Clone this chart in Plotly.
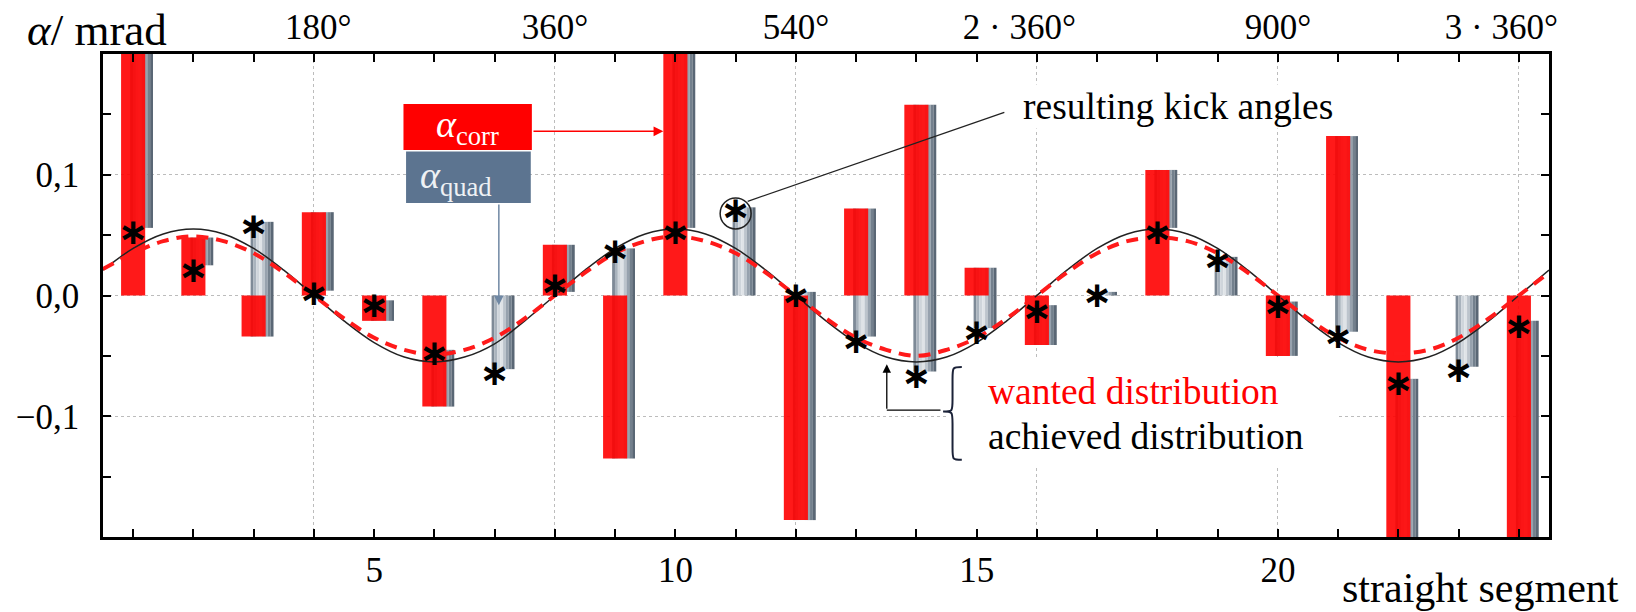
import plotly.graph_objects as go

# ---------------- data ----------------
segments = list(range(1, 25))
# corrector kick (red bars, from 0)
alpha_corr = [0.25, 0.048, -0.034, 0.069, -0.021, -0.092, 0.0, 0.042, -0.135, 0.25, 0.0, -0.186,
              0.072, 0.158, 0.023, -0.041, 0.0, 0.104, 0.0, -0.050, 0.132, -0.25, 0.0, -0.25]
# quadrupole contribution (grey bars, starting at the end of the red bar)
alpha_quad = [-0.194, -0.023, 0.095, -0.065, 0.017, 0.047, -0.061, -0.039, 0.174, -0.194, 0.073, 0.189,
              -0.106, -0.221, -0.050, 0.033, 0.003, -0.048, 0.032, 0.045, -0.162, 0.181, -0.059, 0.229]
# resulting kick angles (asterisks)
kick_angles = [0.050, 0.019, 0.055, 0.000, -0.010, -0.050, -0.067, 0.006, 0.034, 0.050, 0.068, -0.002,
               -0.040, -0.069, -0.033, -0.015, -0.002, 0.050, 0.027, -0.011, -0.036, -0.075, -0.064, -0.028]

curve_x = [0.5, 1.0, 1.5, 2.0, 2.5, 3.0, 3.5, 4.0, 4.5, 5.0, 5.5, 6.0, 6.5, 7.0, 7.5, 8.0,
           8.5, 9.0, 9.5, 10.0, 10.5, 11.0, 11.5, 12.0, 12.5, 13.0, 13.5, 14.0, 14.5, 15.0, 15.5, 16.0,
           16.5, 17.0, 17.5, 18.0, 18.5, 19.0, 19.5, 20.0, 20.5, 21.0, 21.5, 22.0, 22.5, 23.0, 23.5, 24.0, 24.5]
achieved = [0.021, 0.039, 0.051, 0.055, 0.051, 0.039, 0.021, 0.000, -0.021, -0.039, -0.051, -0.055,
            -0.051, -0.040, -0.021, 0.000, 0.021, 0.039, 0.051, 0.055, 0.051, 0.039, 0.021, 0.000,
            -0.021, -0.039, -0.051, -0.055, -0.051, -0.039, -0.021, 0.000, 0.021, 0.039, 0.051, 0.055,
            0.051, 0.039, 0.021, 0.000, -0.021, -0.039, -0.051, -0.055, -0.051, -0.039, -0.021, 0.000, 0.021]
wanted = [0.022, 0.035, 0.045, 0.049, 0.045, 0.035, 0.019, 0.000, -0.019, -0.035, -0.045, -0.049,
          -0.045, -0.035, -0.019, 0.000, 0.019, 0.035, 0.045, 0.049, 0.045, 0.035, 0.019, 0.000,
          -0.019, -0.035, -0.045, -0.050, -0.045, -0.035, -0.019, 0.000, 0.019, 0.035, 0.045, 0.048,
          0.045, 0.035, 0.019, 0.000, -0.019, -0.035, -0.045, -0.048, -0.045, -0.035, -0.019, 0.000, 0.019]

NB = "\u00a0"
bottom_tickvals = [5, 10, 15, 20]
bottom_ticktext = ["5", "10", "15", "20"]
top_tickvals = [4, 8, 12, 16, 20, 24]
top_ticktext = [NB + "180°", "360°", "540°", "2 · 360°" + NB * 4, "900°", "3 · 360°" + NB * 4]
y_tickvals = [-0.1, 0.0, 0.1]
y_ticktext = ["\u22120,1", "0,0", "0,1"]

# ---------------- style ----------------
FONT = "Liberation Serif"
RED = "#ff1a1a"
GRID = "#bcbcbc"
grey_shades = ["#7e8a97", "#a9b3bd", "#cfd5db", "#dfe3e7", "#bcc4cc", "#97a2ae", "#73808d", "#5a6775"]

fig = go.Figure()

gw = 0.38 / len(grey_shades)
for i, c in enumerate(grey_shades):
    fig.add_trace(go.Bar(x=segments, y=alpha_quad, base=alpha_corr, offset=-0.05 + i * gw, width=gw,
                         marker=dict(color=c, line=dict(width=0)), showlegend=False, hoverinfo="skip"))

fig.add_trace(go.Bar(x=segments, y=alpha_corr, offset=-0.2, width=0.4,
                     marker=dict(color="rgba(255,0,0,0.9)", line=dict(width=0)), showlegend=False))

fig.add_trace(go.Scatter(x=curve_x, y=achieved, mode="lines", showlegend=False,
                         line=dict(color="#222222", width=1.5, shape="spline")))
fig.add_trace(go.Scatter(x=curve_x, y=wanted, mode="lines", showlegend=False,
                         line=dict(color=RED, width=4, dash="12px,8px", shape="spline")))

fig.add_trace(go.Scatter(x=segments, y=kick_angles, mode="text", text=["\u2217"] * len(segments),
                         textposition="middle center", showlegend=False,
                         textfont=dict(family="DejaVu Sans", size=36, color="black", weight="bold")))

# invisible trace for the top axis
fig.add_trace(go.Scatter(x=[top_tickvals[0]], y=[None], xaxis="x2", mode="markers", showlegend=False))

axis_common = dict(showline=True, linecolor="black", linewidth=2.5, ticks="inside", ticklen=8,
                   tickwidth=2, tickcolor="black", automargin=False,
                   tickfont=dict(family=FONT, size=35, color="black"))

fig.update_layout(
    template="none",
    width=1636, height=612, autosize=False,
    margin=dict(l=103, r=87, t=54, b=75),
    paper_bgcolor="white", plot_bgcolor="white",
    barmode="overlay", showlegend=False,
    font=dict(family=FONT, color="black"),
    xaxis=dict(range=[0.5, 24.5], tickmode="array", tickvals=bottom_tickvals, ticktext=bottom_ticktext,
               showgrid=False, zeroline=False, ticklabelstandoff=0,
               minor=dict(tick0=0, dtick=1, ticks="inside", ticklen=8, tickwidth=2, tickcolor="black",
                          showgrid=False),
               **axis_common),
    xaxis2=dict(range=[0.5, 24.5], overlaying="x", side="top", tickmode="array", tickvals=top_tickvals,
                ticktext=top_ticktext, showgrid=True, gridcolor=GRID, gridwidth=1, griddash="3px,3px",
                zeroline=False, ticklabelstandoff=-2,
                minor=dict(tick0=0, dtick=1, ticks="inside", ticklen=8, tickwidth=2, tickcolor="black",
                           showgrid=False),
                **axis_common),
    yaxis=dict(range=[-0.2, 0.2], tickmode="array", tickvals=y_tickvals, ticktext=y_ticktext,
               showgrid=True, gridcolor=GRID, gridwidth=1, griddash="3px,3px", zeroline=False,
               mirror="allticks", ticklabelstandoff=14,
               minor=dict(tick0=0, dtick=0.05, ticks="inside", ticklen=8, tickwidth=2, tickcolor="black",
                          showgrid=False),
               **axis_common),
)

# ---------------- annotations / decorations ----------------
shapes = []
annotations = []

# axis titles
annotations.append(dict(xref="paper", yref="paper", x=-0.053, y=1.049, xanchor="left", yanchor="middle",
                        borderpad=0, text="<i>α</i>/ mrad", showarrow=False,
                        font=dict(family=FONT, size=45, color="black")))
annotations.append(dict(xref="paper", yref="paper", x=1.049, y=-0.106, xanchor="right", yanchor="middle",
                        borderpad=0, text="straight segment", showarrow=False,
                        font=dict(family=FONT, size=42, color="black")))

# alpha_corr box + arrow
shapes.append(dict(type="rect", xref="x", yref="y", x0=5.487, x1=7.618, y0=0.1206, y1=0.1586,
                   fillcolor="#ff0000", line=dict(width=0), layer="above"))
annotations.append(dict(xref="x", yref="y", x=6.55, y=0.1396, text="<i>α</i><sub>corr</sub>", showarrow=False,
                        xanchor="center", yanchor="middle", font=dict(family=FONT, size=38, color="white")))
annotations.append(dict(xref="x", yref="y", x=9.8, y=0.136, ax=7.62, ay=0.136, axref="x", ayref="y",
                        text="", showarrow=True, arrowhead=2, arrowsize=1.3, arrowwidth=1.5, arrowcolor="#ff0000"))

# alpha_quad box + arrow
shapes.append(dict(type="rect", xref="x", yref="y", x0=5.53, x1=7.60, y0=0.0766, y1=0.1193,
                   fillcolor="#5c7490", line=dict(width=0), layer="above"))
annotations.append(dict(xref="x", yref="y", x=5.73, y=0.0975, text="<i>α</i><sub>quad</sub>", showarrow=False,
                        xanchor="left", yanchor="middle", font=dict(family=FONT, size=38, color="#eef1f4")))
annotations.append(dict(xref="x", yref="y", x=7.07, y=-0.008, ax=7.07, ay=0.0766, axref="x", ayref="y",
                        text="", showarrow=True, arrowhead=2, arrowsize=1.3, arrowwidth=1.5, arrowcolor="#7088a4"))

# circle round the kick angle of segment 11 + leader to label
cx, cy = segments[10], kick_angles[10]
rx, ry = 15.5 / 60.25, 15.5 / 1207.5
shapes.append(dict(type="circle", xref="x", yref="y", x0=cx - rx, x1=cx + rx, y0=cy - ry, y1=cy + ry,
                   line=dict(color="#222222", width=1.5), layer="above"))
shapes.append(dict(type="line", xref="x", yref="y", x0=cx + 0.20, y0=cy + 0.010, x1=15.46, y1=0.1516,
                   line=dict(color="#222222", width=1.3), layer="above"))
annotations.append(dict(xref="x", yref="y", x=15.74, y=0.1563, xanchor="left", yanchor="middle",
                        text="resulting kick angles", showarrow=False, bgcolor="white",
                        font=dict(family=FONT, size=37.5, color="black")))

# wanted / achieved label with brace
shapes.append(dict(type="rect", xref="x", yref="y", x0=14.5, x1=21.0, y0=-0.1415, y1=-0.0530,
                   fillcolor="white", line=dict(width=0), layer="between"))
annotations.append(dict(xref="x", yref="y", x=15.16, y=-0.0795, xanchor="left", yanchor="middle",
                        text="wanted distribution", showarrow=False,
                        font=dict(family=FONT, size=37.5, color="#ff0000")))
annotations.append(dict(xref="x", yref="y", x=15.16, y=-0.1168, xanchor="left", yanchor="middle",
                        text="achieved distribution", showarrow=False,
                        font=dict(family=FONT, size=37.5, color="black")))

xl, xm, xr = 14.443, 14.60, 14.754
yt, yc, yb = -0.0593, -0.0961, -0.1361
d = 0.010
brace = (f"M {xr},{yt} C {xm},{yt} {xm},{yt} {xm},{yt - d} L {xm},{yc + d} "
         f"C {xm},{yc} {xm},{yc} {xl},{yc} C {xm},{yc} {xm},{yc} {xm},{yc - d} "
         f"L {xm},{yb + d} C {xm},{yb} {xm},{yb} {xr},{yb}")
shapes.append(dict(type="path", xref="x", yref="y", path=brace, line=dict(color="#1b2238", width=2),
                   layer="above"))
shapes.append(dict(type="line", xref="x", yref="y", x0=14.40, y0=-0.0950, x1=13.509, y1=-0.0950,
                   line=dict(color="black", width=1.3), layer="above"))
annotations.append(dict(xref="x", yref="y", x=13.509, y=-0.0570, ax=13.509, ay=-0.0950, axref="x", ayref="y",
                        text="", showarrow=True, arrowhead=2, arrowsize=1.3, arrowwidth=1.3, arrowcolor="black"))

fig.update_layout(shapes=shapes, annotations=annotations)

fig.write_html("out.html", config={"displayModeBar": False},
               post_script="document.body.style.margin='0px';document.body.style.overflow='hidden';")
